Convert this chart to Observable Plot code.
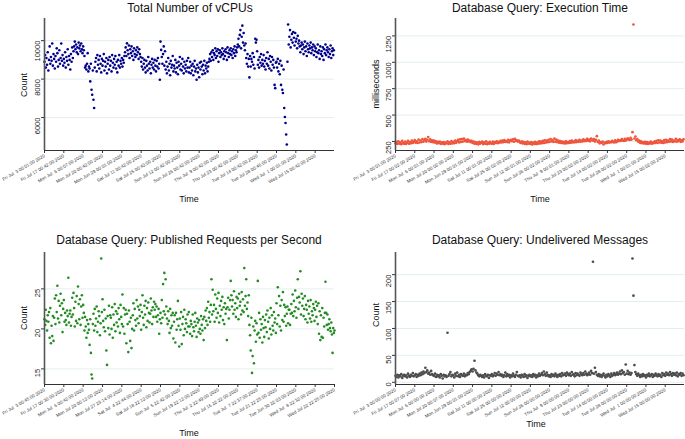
<!DOCTYPE html>
<html>
<head>
<meta charset="utf-8">
<script src="https://cdn.jsdelivr.net/npm/d3@7"></script>
<script src="https://cdn.jsdelivr.net/npm/@observablehq/plot@0.6"></script>
<style>
  body { margin: 0; background: #fff; }
  #root { position: relative; width: 685px; height: 439px; background: #fff; font-family: "Liberation Sans", Arial, sans-serif; overflow: hidden; }
  .panel { position: absolute; }
  .panel svg { overflow: visible; }
  .lbl { position: absolute; white-space: nowrap; color: #111; transform: translate(-50%, -50%); line-height: 1; }
  .rot { transform: translate(-50%, -50%) rotate(-90deg); }
</style>
</head>
<body>
<div id="root"></div>
<script>
// ---------------- DATA ----------------
const vcpuValues = [
  8900, 9250, 8600, 9100, 8750, 9400, 8450, 9000, 9700, 8800,
  9150, 8950, 9850, 8700, 9300, 9050, 8550, 9200, 8900, 9600,
  9350, 8650, 9000, 9500, 8800, 9100, 9850, 8950, 9250, 8700,
  9050, 8850, 9400, 8600, 9150, 8950, 9550, 8750, 9200, 9000,
  8500, 9300, 8900, 9650, 9100, 9450, 9700, 9950, 9550, 9800,
  9400, 9650, 9300, 9900, 9600, 9750, 9450, 9850, 9550, 9350,
  9700, 9500, 9200, 8600, 8700, 8500, 8800, 9350, 8400, 8650,
  8550, 7880, 8800, 7450, 7190, 8450, 6930, 6500, 8600, 8900,
  9100, 8400, 9250, 8750, 9000, 8550, 9200, 8800, 8350, 9050,
  8700, 8950, 9300, 8450, 8900, 8650, 9100, 8300, 8800, 9000,
  8500, 9150, 8700, 8950, 8400, 9250, 8850, 8600, 9050, 8750,
  9200, 8550, 8900, 8350, 9000, 8700, 9250, 8600, 8950, 8800,
  9100, 8650, 9000, 8850, 9200, 9400, 9650, 9200, 9860, 9500,
  9300, 9750, 9100, 9550, 9350, 9700, 9200, 9450, 9000, 9600,
  9300, 9150, 9500, 9250, 9650, 9400, 9050, 9550, 9300, 9150,
  8900, 8650, 9100, 8500, 8800, 9000, 8600, 8350, 8950, 8700,
  8450, 9150, 8800, 8550, 8900, 8300, 8750, 9050, 8600, 8850,
  8500, 9000, 8700, 8400, 8950, 8650, 9100, 8550, 8800, 7970,
  9950, 9520, 9150, 8800, 9300, 9700, 8700, 9450, 8500, 8900,
  8300, 8650, 9100, 8450, 8800, 8200, 8950, 8600, 8750, 9200,
  8400, 8700, 8550, 9000, 8350, 8850, 8600, 8250, 8900, 8700,
  9150, 8500, 8800, 8450, 9050, 8650, 8300, 8900, 8550, 8750,
  8400, 8950, 8600, 9100, 8350, 8600, 8900, 8300, 8700, 8450,
  8800, 8200, 8650, 8950, 8400, 8550, 7970, 8750, 8350, 8600,
  8100, 8850, 8500, 8900, 8650, 8250, 8750, 8450, 8950, 8300,
  8700, 8550, 8850, 8400, 8650, 8900, 9050, 9300, 8950, 9400,
  9150, 9500, 9000, 9350, 9250, 9600, 9100, 9450, 9200, 9550,
  8900, 9350, 9500, 9150, 9400, 9250, 9600, 9300, 9050, 9450,
  9200, 9550, 9400, 9000, 9650, 9350, 9150, 9500, 9300, 9600,
  9250, 9450, 9100, 9550, 9350, 9700, 9200, 9500, 9400, 9650,
  9800, 10100, 9700, 10300, 10550, 9600, 10200, 10780, 9900, 10400,
  9750, 9500, 9850, 9100, 8800, 9300, 8650, 9050, 8090, 9200,
  8650, 9050, 8900, 9350, 8750, 9150, 8550, 10100, 9900, 10050,
  9450, 8750, 9000, 8600, 9150, 8850, 9300, 8700, 9000, 8800,
  9250, 8650, 8950, 8500, 9100, 8800, 9400, 8700, 9050, 8550,
  9200, 8900, 8450, 9150, 8750, 9000, 8600, 7700, 7530, 8850,
  8900, 8600, 9050, 8400, 8800, 8250, 8950, 7700, 8700, 7450,
  7280, 8500, 6500, 6030, 5720, 5120, 4600, 8900, 10840, 9800,
  10200, 10550, 9650, 10050, 10350, 9900, 10450, 10150, 9750, 10400,
  9950, 10100, 9600, 10250, 9850, 10000, 9700, 9400, 9750, 9900,
  9550, 9800, 9300, 9650, 9950, 9450, 9700, 9200, 9850, 9550,
  9400, 9750, 9600, 9900, 9350, 9650, 9500, 9800, 9250, 9700,
  9450, 9600, 9150, 9400, 9800, 9350, 9500, 9050, 9700, 9300,
  9450, 9200, 9650, 9000, 9550, 9350, 9800, 9250, 9500, 9650,
  9400, 9150, 9550, 9300, 9750, 9100, 9450, 9600, 9250, 9500
];
const execValues = [
  232, 245, 226, 251, 230, 242, 224, 255, 234, 229,
  248, 226, 238, 256, 229, 244, 232, 258, 236, 247,
  263, 238, 252, 235, 268, 240, 257, 244, 271, 247,
  262, 275, 249, 266, 291, 251, 270, 246, 261, 243,
  257, 239, 250, 231, 246, 233, 249, 227, 241, 228,
  244, 224, 239, 232, 250, 226, 241, 229, 253, 231,
  247, 233, 258, 237, 252, 264, 241, 269, 245, 272,
  249, 276, 253, 262, 247, 268, 250, 258, 244, 255,
  236, 249, 228, 244, 226, 240, 223, 246, 230, 238,
  249, 225, 242, 228, 251, 224, 238, 229, 245, 232,
  229, 248, 226, 243, 237, 252, 233, 246, 239, 255,
  241, 258, 243, 262, 246, 254, 244, 266, 242, 259,
  264, 252, 270, 247, 274, 255, 261, 249, 257, 244,
  236, 251, 231, 246, 227, 241, 224, 248, 228, 239,
  226, 243, 222, 238, 227, 247, 225, 240, 229, 251,
  231, 249, 234, 255, 236, 261, 239, 257, 243, 266,
  246, 272, 250, 263, 245, 276, 249, 267, 243, 258,
  238, 254, 235, 249, 233, 246, 231, 252, 234, 244,
  236, 253, 238, 258, 240, 249, 242, 262, 244, 256,
  246, 265, 248, 259, 250, 270, 252, 263, 254, 274,
  256, 268, 251, 277, 266, 258, 272, 249, 264, 300,
  245, 257, 232, 244, 235, 249, 221, 238, 233, 246,
  236, 251, 239, 247, 242, 255, 245, 240, 260, 243,
  250, 266, 253, 261, 256, 271, 259, 254, 274, 258,
  266, 279, 270, 264, 283, 268, 338, 1358, 278, 297,
  262, 272, 248, 258, 236, 250, 233, 244, 231, 247,
  229, 243, 226, 238, 231, 248, 228, 240, 234, 251,
  237, 255, 235, 261, 240, 258, 238, 252, 236, 263,
  241, 266, 244, 258, 247, 272, 250, 268, 245, 259,
  251, 274, 248, 263, 253, 269, 246, 261, 250, 270
];
const rpsValues = [
  21.2, 20.5, 22.4, 21.0, 19.8, 21.7, 20.9, 22.1, 18.9, 22.6,
  18.2, 20.4, 19.1, 21.6, 18.5, 21.4, 23.8, 20.6, 24.2, 22.1,
  25.4, 21.3, 23.5, 20.8, 22.9, 24.4, 21.7, 23.2, 19.6, 22.5,
  23.6, 20.9, 22.0, 21.1, 20.5, 22.3, 21.6, 26.4, 20.8, 21.9,
  22.3, 20.4, 21.5, 23.9, 21.8, 24.5, 22.6, 20.3, 23.4, 21.0,
  24.1, 20.7, 25.3, 23.1, 21.2, 23.7, 20.5, 22.8, 24.2, 21.4,
  23.0, 22.0, 19.8, 21.5, 20.3, 18.9, 21.1, 19.5, 20.6, 19.9,
  18.0, 21.2, 17.0, 14.3, 13.8, 20.6, 21.9, 19.8, 22.5, 20.4,
  21.3, 22.8, 19.6, 20.9, 22.2, 21.6, 19.2, 20.7, 28.8, 22.1,
  23.7, 21.0, 20.2, 22.4, 19.7, 21.3, 17.3, 15.5, 21.6, 20.1,
  22.9, 19.3, 21.7, 21.4, 20.0, 22.7, 18.9, 21.8, 20.5, 23.1,
  19.7, 22.2, 20.8, 21.9, 20.3, 22.6, 21.2, 19.5, 23.0, 21.5,
  20.6, 24.3, 20.3, 22.6, 19.4, 21.8, 22.4, 18.2, 21.9, 20.6,
  17.1, 22.3, 20.9, 18.5, 21.4, 17.6, 20.0, 21.7, 23.2, 19.8,
  22.5, 21.1, 20.4, 23.6, 21.3, 22.8, 20.7, 22.4, 21.6, 23.0,
  19.9, 22.1, 24.2, 21.4, 20.5, 22.9, 21.8, 23.5, 20.2, 22.6,
  21.0, 23.3, 22.0, 20.8, 21.9, 23.8, 22.3, 20.6, 22.7, 21.5,
  23.4, 22.4, 23.1, 21.5, 22.8, 20.9, 21.7, 22.5, 19.4, 21.2,
  22.0, 20.7, 23.6, 21.4, 25.6, 22.2, 27.0, 21.8, 26.2, 22.8,
  21.3, 20.6, 22.2, 21.0, 19.5, 22.5, 20.1, 21.7, 20.4, 22.0,
  18.8, 20.9, 21.7, 18.3, 22.0, 19.9, 21.2, 23.5, 20.4, 17.8,
  21.3, 19.9, 22.1, 18.1, 20.6, 21.5, 19.2, 22.4, 20.0, 21.2,
  20.7, 19.6, 21.8, 20.3, 22.1, 20.3, 19.4, 21.0, 20.6, 19.1,
  21.8, 20.2, 19.7, 20.9, 22.0, 20.4, 19.0, 21.3, 20.8, 19.6,
  21.1, 20.0, 19.4, 21.6, 20.5, 19.8, 21.2, 18.6, 21.5, 20.1,
  22.3, 21.0, 22.6, 20.5, 23.4, 21.4, 22.1, 20.9, 23.0, 26.2,
  21.8, 24.9, 22.2, 23.0, 20.9, 24.3, 22.5, 21.4, 23.8, 22.0,
  24.5, 20.8, 22.9, 21.6, 23.5, 22.4, 24.0, 21.1, 22.7, 20.6,
  23.2, 21.9, 22.5, 18.6, 22.7, 23.9, 21.3, 22.4, 23.6, 26.0,
  24.2, 22.8, 23.6, 21.9, 24.7, 22.4, 23.2, 21.5, 24.0, 22.6,
  23.8, 21.2, 24.4, 22.9, 23.4, 21.8, 24.6, 22.3, 23.7, 22.1,
  27.6, 22.9, 24.1, 26.2, 22.5, 23.3, 21.6, 24.2, 20.5, 19.2,
  17.3, 21.4, 14.5, 16.6, 20.3, 15.7, 19.8, 21.0, 18.4, 20.7,
  19.3, 26.0, 19.5, 22.0, 18.9, 21.2, 19.9, 20.6, 18.3, 21.5,
  20.1, 19.0, 21.1, 20.2, 21.8, 19.6, 22.3, 20.9, 18.8, 21.4,
  20.0, 22.6, 19.3, 21.7, 20.4, 19.8, 22.1, 20.8, 21.3, 19.5,
  23.2, 20.6, 25.2, 21.7, 24.1, 20.3, 22.9, 19.8, 23.6, 21.1,
  24.6, 20.9, 23.0, 21.6, 22.7, 20.4, 21.9, 22.8, 20.7, 22.4,
  22.4, 20.5, 21.9, 23.1, 22.0, 24.3, 21.6, 23.5, 22.2, 24.8,
  22.7, 21.4, 23.9, 26.2, 22.5, 24.0, 23.3, 27.2, 21.8, 24.4,
  22.9, 23.8, 21.6, 22.5, 24.1, 21.2, 23.0, 22.4, 20.8, 23.5,
  21.9, 22.8, 21.3, 23.6, 20.9, 22.2, 21.7, 23.1, 22.6, 21.0,
  22.4, 23.4, 21.5, 22.9, 20.6, 23.2, 19.4, 22.2, 18.6, 21.7,
  19.0, 22.6, 18.9, 21.4, 20.3, 22.0, 25.9, 22.0, 20.5, 21.8,
  19.9, 20.6, 21.2, 20.1, 19.7, 20.8, 19.3, 17.0, 20.1, 19.5,
  19.8
];
const undeliveredValues = [
  12, 10, 14, 9, 13, 11, 15, 8, 12, 14,
  11, 13, 9, 16, 12, 10, 14, 12, 17, 11,
  13, 15, 10, 14, 12, 16, 13, 18, 15, 20,
  17, 27, 19, 22, 16, 18, 14, 21, 15, 13,
  12, 16, 10, 14, 11, 13, 9, 15, 12, 7,
  14, 11, 13, 10, 92, 12, 15, 19, 11, 14,
  13, 9, 16, 12, 18, 11, 14, 10, 15, 13,
  12, 16, 11, 14, 13, 17, 15, 19, 21, 24,
  20, 25, 40, 22, 18, 16, 13, 11, 14, 12,
  10, 13, 9, 15, 12, 11, 14, 8, 13, 12,
  15, 11, 13, 17, 12, 16, 14, 19, 13, 15,
  12, 14, 10, 13, 18, 11, 15, 12, 14, 9,
  13, 11, 16, 12, 10, 14, 19, 12, 11, 13,
  9, 14, 12, 10, 15, 11, 13, 8, 12, 14,
  11, 13, 10, 15, 12, 14, 9, 13, 11, 16,
  12, 14, 17, 13, 20, 15, 12, 18, 14, 11,
  13, 10, 15, 12, 14, 11, 16, 13, 10, 14,
  12, 15, 11, 17, 13, 14, 16, 12, 18, 15,
  13, 16, 12, 19, 14, 15, 11, 17, 13, 16,
  14, 12, 18, 15, 13, 17, 14, 20, 16, 13,
  15, 18, 14, 21, 17, 224, 16, 27, 19, 14,
  12, 15, 11, 14, 10, 13, 16, 12, 9, 14,
  11, 15, 13, 10, 16, 12, 14, 17, 13, 15,
  18, 14, 16, 20, 15, 22, 17, 19, 14, 33,
  16, 21, 15, 18, 14, 17, 230, 161, 32, 19,
  15, 12, 16, 13, 10, 14, 11, 15, 12, 13,
  9, 14, 12, 16, 11, 13, 15, 10, 14, 12,
  16, 13, 11, 15, 12, 14, 10, 17, 13, 15,
  12, 18, 14, 16, 13, 19, 15, 12, 17, 14,
  16, 13, 18, 11, 15, 14, 17, 12, 16, 13
];

const vcpuTickLabels = ["Fri Jul  3 00:01:00 2020","Fri Jul 17 00:42:00 2020","Mon Jul  6 00:07:00 2020","Mon Jul 20 00:42:00 2020","Mon Jun 29 00:01:00 2020","Sat Jul 11 00:42:00 2020","Sat Jul 25 00:42:00 2020","Sun Jul 12 00:42:00 2020","Sun Jul 26 00:42:00 2020","Thu Jul  9 00:42:00 2020","Thu Jul 23 00:42:00 2020","Tue Jul 14 00:42:00 2020","Tue Jul 28 00:46:00 2020","Wed Jul  1 00:01:00 2020","Wed Jul 15 00:42:00 2020"];
const execTickLabels = ["Fri Jul  3 00:01:00 2020","Fri Jul 17 00:02:00 2020","Mon Jul  6 00:01:00 2020","Mon Jul 20 00:02:00 2020","Mon Jun 29 00:01:00 2020","Sat Jul 11 00:01:00 2020","Sat Jul 25 00:02:00 2020","Sun Jul 12 00:01:00 2020","Sun Jul 26 00:02:00 2020","Thu Jul  9 00:01:00 2020","Thu Jul 23 00:02:00 2020","Tue Jul 14 00:02:00 2020","Tue Jul 28 00:02:00 2020","Wed Jul  1 00:01:00 2020","Wed Jul 15 00:02:00 2020"];
const rpsTickLabels = ["Fri Jul  3 00:45:00 2020","Fri Jul 17 00:30:00 2020","Mon Jul  6 00:42:00 2020","Mon Jul 20 00:12:00 2020","Mon Jul 27 23:14:00 2020","Sat Jul  4 22:44:00 2020","Sat Jul 18 22:12:00 2020","Sun Jul  5 22:42:00 2020","Sun Jul 19 22:12:00 2020","Thu Jul  2 22:49:00 2020","Thu Jul 16 22:22:00 2020","Tue Jul  7 22:37:00 2020","Tue Jul 21 22:25:00 2020","Tue Jun 30 22:03:00 2020","Wed Jul  8 22:32:00 2020","Wed Jul 22 22:25:00 2020"];
const undeliveredTickLabels = ["Fri Jul  3 00:00:00 2020","Fri Jul 17 00:07:00 2020","Mon Jul  6 00:00:00 2020","Mon Jul 20 00:07:00 2020","Mon Jun 29 00:01:00 2020","Sat Jul 11 00:00:00 2020","Sat Jul 25 00:00:00 2020","Sun Jul 12 00:00:00 2020","Sun Jul 26 00:00:00 2020","Thu Jul  9 00:00:00 2020","Thu Jul 23 00:00:00 2020","Tue Jul 14 00:00:00 2020","Tue Jul 28 00:00:00 2020","Wed Jul  1 00:00:00 2020","Wed Jul 15 00:00:00 2020"];

const vcpuYTicks = [6000, 8000, 10000];
const execYTicks = [250, 500, 750, 1000, 1250];
const rpsYTicks = [15, 20, 25];
const undeliveredYTicks = [0, 50, 100, 150, 200];

// ---------------- DRAW ----------------
const root = document.getElementById("root");
const FONT = "'Liberation Sans', Arial, sans-serif";

function addLabel(text, x, y, size, rotated) {
  const d = document.createElement("div");
  d.className = "lbl" + (rotated ? " rot" : "");
  d.style.left = x + "px";
  d.style.top = y + "px";
  d.style.fontSize = size + "px";
  d.textContent = text;
  root.appendChild(d);
}

function panel(cfg) {
  const data = cfg.values.map((v, i) => ({i, v}));
  const [lo, hi] = d3.extent(cfg.values);
  const pad = (hi - lo) * 0.05;
  const yDom = [lo - pad, hi + pad];
  const tickIdx = cfg.xLabels.map((_, k) => k * cfg.step);
  const chart = Plot.plot({
    width: cfg.w, height: cfg.h,
    marginLeft: cfg.mL, marginRight: cfg.mR, marginTop: cfg.mT, marginBottom: cfg.mB,
    style: {fontFamily: FONT, background: "transparent", color: "#222", overflow: "visible"},
    x: {domain: [0, cfg.xMax]},
    y: {domain: yDom},
    marks: [
      Plot.gridY(cfg.yTicks, {stroke: "#e4eeee", strokeOpacity: 1, strokeWidth: 1}),
      Plot.dot(data, {x: "i", y: "v", r: cfg.r, fill: cfg.color, stroke: null}),
      Plot.axisX({ticks: tickIdx, tickFormat: d => cfg.xLabels[Math.round(d / cfg.step)], tickRotate: -30, fontSize: 4.6, tickSize: 3, tickPadding: 2, label: null, stroke: "#333", fill: "#333"}),
      Plot.axisY({ticks: cfg.yTicks, tickFormat: () => "", tickSize: 3, label: null, stroke: "#333"}),
      Plot.text(cfg.yTicks, {y: d => d, text: d => String(d), frameAnchor: "left", rotate: -90, textAnchor: "end", lineAnchor: "bottom", dx: -5, fontSize: 7.5, fill: "#222"}),
      Plot.ruleY([yDom[0]], {stroke: "#333", strokeWidth: 1}),
      Plot.ruleX([0], {stroke: "#555", strokeWidth: 1.6})
    ]
  });
  const wrap = document.createElement("div");
  wrap.className = "panel";
  wrap.style.left = cfg.left + "px";
  wrap.style.top = cfg.top + "px";
  wrap.appendChild(chart);
  root.appendChild(wrap);
}

panel({left: 0, top: 0, w: 345, h: 215, mL: 44, mR: 11, mT: 18, mB: 65, r: 1.3,
  values: vcpuValues, color: "#00008B", yTicks: vcpuYTicks, xLabels: vcpuTickLabels, step: 30, xMax: 450});
panel({left: 345, top: 0, w: 340, h: 215, mL: 50, mR: 1, mT: 18, mB: 65, r: 1.35,
  values: execValues, color: "#EF553B", yTicks: execYTicks, xLabels: execTickLabels, step: 20, xMax: 300});
panel({left: 0, top: 215, w: 345, h: 224, mL: 44, mR: 11, mT: 37, mB: 55, r: 1.3,
  values: rpsValues, color: "#228B22", yTicks: rpsYTicks, xLabels: rpsTickLabels, step: 30, xMax: 450});
panel({left: 345, top: 215, w: 340, h: 224, mL: 50, mR: 1, mT: 37, mB: 55, r: 1.35,
  values: undeliveredValues, color: "#4D4D4D", yTicks: undeliveredYTicks, xLabels: undeliveredTickLabels, step: 20, xMax: 300});

addLabel("Total Number of vCPUs", 190, 8, 12);
addLabel("Database Query: Execution Time", 540, 8, 12);
addLabel("Database Query: Published Requests per Second", 189, 240, 12);
addLabel("Database Query: Undelivered Messages", 540, 240, 12);

addLabel("Time", 189, 199, 9);
addLabel("Time", 540, 199, 9);
addLabel("Time", 189, 433, 9);
addLabel("Time", 536, 424, 9);

addLabel("Count", 24, 85, 9, true);
addLabel("milliseconds", 376, 84, 9, true);
addLabel("Count", 24, 318, 9, true);
addLabel("Count", 376, 315, 9, true);
</script>
</body>
</html>
